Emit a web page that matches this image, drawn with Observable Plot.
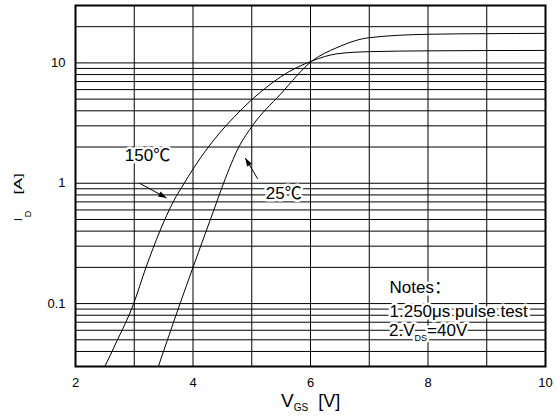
<!DOCTYPE html>
<html><head><meta charset="utf-8">
<script src="https://cdn.jsdelivr.net/npm/d3@7"></script>
<script src="https://cdn.jsdelivr.net/npm/@observablehq/plot@0.6"></script>
<style>body{margin:0;background:#fff}</style>
</head><body><div id="chart"></div>
<script>
// ---- data ----
const vgs150 = [2.50, 2.68, 2.99, 3.20, 3.67, 3.85, 4.13, 4.41, 4.69, 5.00, 5.26, 5.49, 6.03, 6.45, 7.0, 8.0, 10.0];
const id150  = [0.03, 0.046, 0.10, 0.20, 0.71, 1.0, 1.63, 2.47, 3.51, 4.95, 6.32, 7.65, 10.4, 11.9, 12.4, 12.6, 12.7];
const vgs25  = [3.41, 3.78, 4.00, 4.35, 4.52, 4.78, 5.01, 5.49, 6.03, 6.45, 7.0, 8.0, 9.0, 10.0];
const id25   = [0.03, 0.10, 0.20, 0.59, 1.0, 2.0, 3.0, 5.5, 10.4, 13.4, 16.2, 17.3, 17.5, 17.6];

const xTicks = [2, 4, 6, 8, 10];
const yTicks = [0.1, 1, 10];
const xGrid = [2, 3, 4, 5, 6, 7, 8, 9, 10];
const yGrid = [0.03, 0.04, 0.05, 0.06, 0.07, 0.08, 0.09, 0.1, 0.2, 0.3, 0.4, 0.5, 0.6, 0.7, 0.8, 0.9,
               1, 2, 3, 4, 5, 6, 7, 8, 9, 10, 20];

const labelText = ["150℃", "25℃"];
const labelV = [3.2255, 5.546];
const labelI = [1.532, 0.740];
const arrowV1 = [3.09, 5.10];
const arrowI1 = [1.0, 1.09];
const arrowV2 = [3.55, 4.89];
const arrowI2 = [0.755, 1.62];
const noteText = ["Notes：", "1.250μs pulse test"];
const noteV = [7.345, 7.345];
const noteI = [0.1233, 0.0774];
const note3Parts = ["2.V", "DS", "=40V"];
const note3V = 7.345, note3I = 0.0528;

const FONT = "'Liberation Sans', Arial, 'Noto Sans CJK SC', sans-serif";

const curve150 = vgs150.map((v, k) => ({v, i: id150[k]}));
const curve25 = vgs25.map((v, k) => ({v, i: id25[k]}));
const labels = labelText.map((t, k) => ({t, v: labelV[k], i: labelI[k]}));
const arrows = arrowV1.map((v, k) => ({v1: v, i1: arrowI1[k], v2: arrowV2[k], i2: arrowI2[k]}));
const notes = noteText.map((t, k) => ({t, v: noteV[k], i: noteI[k]}));

const plot = Plot.plot({
  width: 557, height: 417,
  marginLeft: 75, marginRight: 12, marginTop: 5, marginBottom: 51,
  style: {fontFamily: FONT, fontSize: "13px", color: "#000", background: "#fff"},
  x: {domain: [2, 10], ticks: xTicks, tickSize: 0, tickPadding: 11, label: null, tickFormat: d => String(d)},
  y: {type: "log", domain: [0.03, 30], ticks: yTicks, tickSize: 0, tickPadding: 10, label: null, tickFormat: d => String(d)},
  marks: [
    Plot.ruleX(xGrid, {stroke: "#000", strokeWidth: 1}),
    Plot.ruleY(yGrid, {stroke: "#000", strokeWidth: 1}),
    Plot.line(curve150, {x: "v", y: "i", curve: "monotone-x", stroke: "#000", strokeWidth: 1, clip: true}),
    Plot.line(curve25, {x: "v", y: "i", curve: "monotone-x", stroke: "#000", strokeWidth: 1, clip: true}),
    Plot.link(arrows, {x1: "v1", y1: "i1", x2: "v2", y2: "i2", stroke: "#000", strokeWidth: 1, markerEnd: "arrow"}),
    Plot.text(labels, {x: "v", y: "i", text: "t", fontSize: 17, lineAnchor: "bottom", fill: "#000", stroke: "#fff", strokeWidth: 5}),
    Plot.text(notes, {x: "v", y: "i", text: "t", fontSize: 17, lineAnchor: "bottom", textAnchor: "start", fill: "#000", stroke: "#fff", strokeWidth: 5}),
    Plot.frame({stroke: "#000", strokeWidth: 2})
  ]
});

const svg = d3.select(plot);
// filled arrowheads
svg.selectAll("marker")
  .attr("viewBox", "-12 -6 14 12")
  .attr("markerWidth", 10.5).attr("markerHeight", 9)
  .attr("fill", "#000").attr("stroke", "none")
  .each(function() {
    d3.select(this).selectAll("*").remove();
    d3.select(this).append("path").attr("d", "M-11,-3.8L0,0L-11,3.8Z");
  });

const sx = plot.scale("x"), sy = plot.scale("y");
const ann = svg.append("g").attr("font-family", FONT).attr("fill", "#000").attr("text-anchor", "start");

// note with subscript
const t3 = ann.append("text")
  .attr("x", sx.apply(note3V)).attr("y", sy.apply(note3I))
  .attr("font-size", 17).attr("stroke", "#fff").attr("stroke-width", 5)
  .attr("paint-order", "stroke").attr("stroke-linejoin", "round");
t3.append("tspan").text(note3Parts[0]);
t3.append("tspan").attr("font-size", 9).attr("dy", 5).text(note3Parts[1]);
t3.append("tspan").attr("font-size", 17).attr("dy", -5).text(note3Parts[2]);

// x axis title V_GS [V]
const xt = ann.append("text").attr("x", 281).attr("y", 407);
xt.append("tspan").attr("font-size", 19).text("V");
xt.append("tspan").attr("font-size", 10).attr("dy", 4).text("GS");
xt.append("tspan").attr("font-size", 18).attr("dy", -4).attr("dx", 10).text("[V]");

// y axis title I_D [A]
const yt1 = ann.append("text").attr("transform", "translate(22,221) rotate(-90)").attr("font-size", 10);
yt1.append("tspan").text("I");
yt1.append("tspan").attr("font-size", 9).attr("dy", 9).attr("dx", 1).text("D");
ann.append("text").attr("transform", "translate(22,194.5) rotate(-90) scale(1.75,1)")
  .attr("font-size", 10).text("[A]");

document.getElementById("chart").appendChild(plot);
</script>
</body></html>
